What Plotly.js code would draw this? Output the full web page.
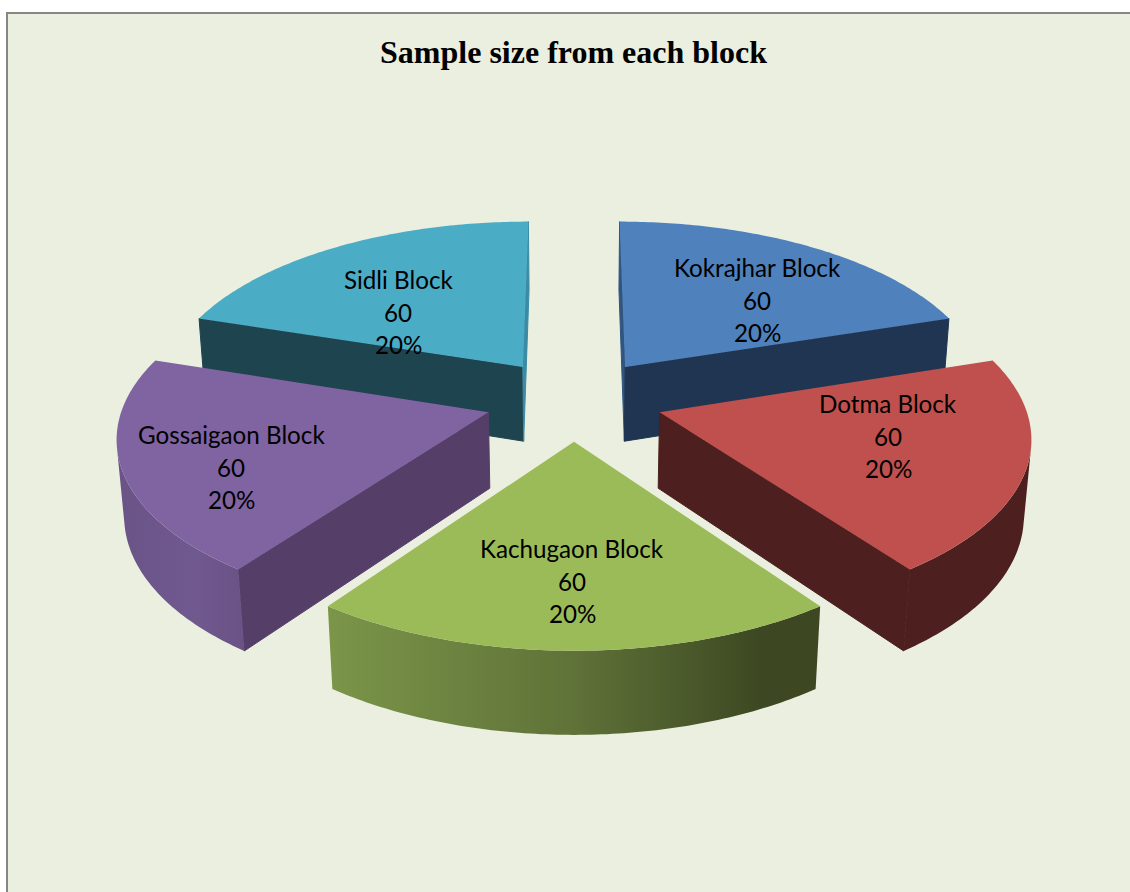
<!DOCTYPE html>
<html>
<head>
<meta charset="utf-8">
<script src="https://cdn.plot.ly/plotly-3.0.1.min.js"></script>
<style>html,body{margin:0;padding:0;background:#fff}#chart{width:1130px;height:892px}</style>
</head>
<body>
<div id="chart"></div>
<script>
// Sample counts per block
const blocks = ['Kokrajhar Block', 'Dotma Block', 'Kachugaon Block', 'Gossaigaon Block', 'Sidli Block'];
const samples = [60, 60, 60, 60, 60];

const topColors = ['#4F81BD', '#C0504D', '#9BBB59', '#8064A2', '#4BACC6'];
const sideColors = ['#1F3552', '#4D1F1F', '#3D4822', '#553F69', '#1E4450'];
// Narrow walls beside the gap at twelve o'clock catch more light
const startWallColors = {0: '#2F5580'};
const endWallColors = {4: '#3A8BA3'};
const rimGradients = {
  1: [[0, '#4D1F1F'], [1, '#4D1F1F']],
  2: [[0, '#7B9549'], [0.5, '#5F7238'], [0.88, '#3D4822'], [1, '#3D4822']],
  3: [[0, '#6A5386'], [0.6, '#70598F'], [1, '#6A5285']]
};
// Text anchors for each block's label (centre of the value line)
const labelX = [757, 888, 572, 231, 398];
const labelY = [300, 436, 581, 467, 312];
const lineStep = 32.5;

// Pinhole view of a unit-radius exploded pie lying on the ground plane
const view = {cx: 574, cy: 399.5, focalX: 2562, focalY: 2534, dist: 7.04, pitch: 28.4 * Math.PI / 180,
  explodeX: 0.245, explodeY: 0.24, depth: 0.242};
const sinP = Math.sin(view.pitch), cosP = Math.cos(view.pitch);
const camY = view.dist * cosP;

function project(X, Y, Z) {
  const zc = view.dist - Y * cosP - Z * sinP;
  return [view.cx + view.focalX * X / zc, view.cy + view.focalY * (Y * sinP - Z * cosP) / zc];
}
function polygon(points, color, gradient, seamWidth) {
  const xy = points.map(p => project(p[0], p[1], p[2]));
  xy.push(xy[0]);
  const trace = {
    type: 'scatter', mode: seamWidth ? 'lines' : 'none', fill: 'toself', hoverinfo: 'skip', showlegend: false,
    x: xy.map(p => p[0]), y: xy.map(p => p[1]), fillcolor: color
  };
  if (seamWidth) trace.line = {color, width: seamWidth};
  if (gradient) {
    const xs = xy.map(p => p[0]);
    trace.fillgradient = {type: 'horizontal', colorscale: gradient, start: Math.min(...xs), stop: Math.max(...xs)};
  }
  return trace;
}

const total = samples.reduce((a, b) => a + b, 0);
let running = 0;
const wedges = samples.map((v, i) => {
  const start = running / total * 2 * Math.PI;
  running += v;
  const end = running / total * 2 * Math.PI;
  const mid = (start + end) / 2;
  return {i, start, end, ox: view.explodeX * Math.sin(mid), oy: -view.explodeY * Math.cos(mid)};
});
wedges.sort((a, b) => a.oy - b.oy);

const traces = [];
wedges.forEach(w => {
  const h = -view.depth, steps = 96;
  const arc = [];
  for (let k = 0; k <= steps; k++) {
    const t = w.start + (w.end - w.start) * k / steps;
    arc.push({t, X: w.ox + Math.sin(t), Y: w.oy - Math.cos(t)});
  }
  const apex = [w.ox, w.oy];
  const faces = (nx, ny, x, y) => nx * (0 - x) + ny * (camY - y) > 0;

  // flat walls along the two cut edges
  const a0 = arc[0], a1 = arc[steps];
  if (faces(-Math.cos(w.start), -Math.sin(w.start), w.ox, w.oy)) {
    traces.push(polygon([[apex[0], apex[1], 0], [a0.X, a0.Y, 0], [a0.X, a0.Y, h], [apex[0], apex[1], h]],
      startWallColors[w.i] || sideColors[w.i], null, 1));
  }
  if (faces(Math.cos(w.end), Math.sin(w.end), w.ox, w.oy)) {
    traces.push(polygon([[apex[0], apex[1], 0], [a1.X, a1.Y, 0], [a1.X, a1.Y, h], [apex[0], apex[1], h]],
      endWallColors[w.i] || sideColors[w.i], null, 1));
  }
  // curved outer wall, camera-facing part only
  const rim = arc.filter(p => faces(Math.sin(p.t), -Math.cos(p.t), p.X, p.Y));
  if (rim.length > 1) {
    const pts = rim.map(p => [p.X, p.Y, 0]).concat(rim.slice().reverse().map(p => [p.X, p.Y, h]));
    traces.push(polygon(pts, sideColors[w.i], rimGradients[w.i]));
  }
  // top face
  traces.push(polygon([[apex[0], apex[1], 0]].concat(arc.map(p => [p.X, p.Y, 0])), topColors[w.i]));
});

const labelFont = {family: 'Lato, sans-serif', size: 24.2, color: '#000'};
const annotations = [];
blocks.forEach((name, i) => {
  const lines = [name, String(samples[i]), Math.round(samples[i] / total * 100) + '%'];
  lines.forEach((text, k) => annotations.push({
    text, xref: 'x', yref: 'y', x: labelX[i], y: labelY[i] + (k - 1) * lineStep,
    showarrow: false, xanchor: 'center', yanchor: 'middle', font: labelFont
  }));
});

const hidden = {showgrid: false, zeroline: false, ticks: '', showticklabels: false, fixedrange: true,
  showline: true, linecolor: '#868686', linewidth: 2};

Plotly.newPlot('chart', traces, {
  width: 1130, height: 892,
  margin: {l: 8, r: 0, t: 14, b: 0},
  paper_bgcolor: '#FFFFFF', plot_bgcolor: '#EBEFDF', showlegend: false,
  title: {
    text: 'Sample size from each block', x: 573.5 / 1130, xanchor: 'center', y: 1 - 52 / 892, yanchor: 'middle',
    font: {family: '"Liberation Serif", serif', size: 32, color: '#000', weight: 'bold'}
  },
  xaxis: Object.assign({range: [8, 1130], side: 'top'}, hidden),
  yaxis: Object.assign({range: [892, 14]}, hidden),
  annotations
}, {displayModeBar: false, staticPlot: true});
</script>
</body>
</html>
